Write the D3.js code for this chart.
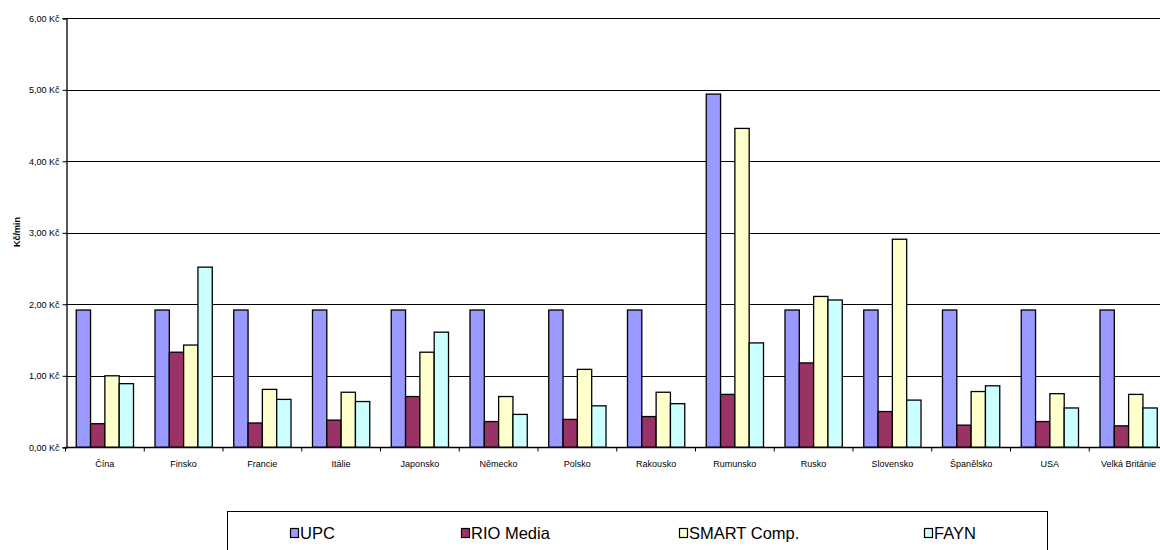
<!DOCTYPE html>
<html><head><meta charset="utf-8">
<script src="https://cdn.jsdelivr.net/npm/d3@7"></script>
<style>body{margin:0;background:#fff}svg{display:block;font-family:"Liberation Sans",Arial,sans-serif}</style>
</head><body><svg id="c" width="1160" height="550"></svg>
<script>
const categories = ["Čína","Finsko","Francie","Itálie","Japonsko","Německo","Polsko","Rakousko","Rumunsko","Rusko","Slovensko","Španělsko","USA","Velká Británie"];
const seriesNames = ["UPC","RIO Media","SMART Comp.","FAYN"];
const upc   = [1.92,1.92,1.92,1.92,1.92,1.92,1.92,1.92,4.94,1.92,1.92,1.92,1.92,1.92];
const rio   = [0.33,1.33,0.34,0.38,0.71,0.36,0.39,0.43,0.74,1.18,0.50,0.31,0.36,0.30];
const smart = [1.00,1.43,0.81,0.77,1.33,0.71,1.09,0.77,4.46,2.11,2.91,0.78,0.75,0.74];
const fayn  = [0.89,2.52,0.67,0.64,1.61,0.46,0.58,0.61,1.46,2.06,0.66,0.86,0.55,0.55];
const yTicks = [0,1,2,3,4,5,6];
const colors = ["#9999FF","#993366","#FFFFCC","#CCFFFF"];
const seriesValues = [upc, rio, smart, fayn];

(function(){
const svg = d3.select("#c");
const pL = 65.5, pR = 1168, pT = 18.3, pB = 447.3;
const x = d3.scaleBand().domain(categories).range([pL, pR]).paddingInner(0).paddingOuter(0);
const y = d3.scaleLinear().domain([0,6]).range([pB, pT]);
const bw = x.bandwidth()/5.5;
const fmt = v => d3.format(".2f")(v).replace(".", ",") + " Kč";

// gridlines
svg.append("g").selectAll("line").data(yTicks.filter(d=>d>0)).join("line")
  .attr("x1", pL).attr("x2", pR)
  .attr("y1", d=>Math.round(y(d))+0.5).attr("y2", d=>Math.round(y(d))+0.5)
  .attr("stroke","#000").attr("stroke-width",1);

// bars
const g = svg.append("g");
categories.forEach((c,i)=>{
  seriesValues.forEach((vals,s)=>{
    const x0 = x(c) + bw*0.75 + s*bw;
    g.append("rect").attr("x", x0).attr("width", bw)
      .attr("y", y(vals[i])).attr("height", y(0)-y(vals[i]))
      .attr("fill", colors[s]).attr("stroke","#000").attr("stroke-width",1.3);
  });
});

// y axis
const yAxis = d3.axisLeft(y).tickValues(yTicks).tickFormat(fmt).tickSize(4).tickPadding(3);
const ya = svg.append("g").attr("transform",`translate(${Math.round(pL)+0.5},0)`).call(yAxis);
ya.select(".domain").attr("stroke","#000").attr("stroke-width",1.3);
ya.selectAll("text").attr("font-size",9).attr("fill","#000").style("font-family","Liberation Sans, Arial, sans-serif");

// x axis
const xa = svg.append("g").attr("transform",`translate(0,${Math.round(pB)+0.5})`);
xa.append("line").attr("x1",pL).attr("x2",pR).attr("stroke","#000").attr("stroke-width",1.3);
xa.selectAll("line.t").data(d3.range(categories.length+1)).join("line").attr("class","t")
  .attr("x1", i=>pL+i*x.step()).attr("x2", i=>pL+i*x.step()).attr("y1",0).attr("y2",4).attr("stroke","#000");
xa.selectAll("text").data(categories).join("text")
  .attr("x", d=>x(d)+x.bandwidth()/2).attr("y", 19).attr("text-anchor","middle")
  .attr("font-size",9).attr("fill","#000").text(d=>d);

// y title
svg.append("text").attr("transform","translate(20,232) rotate(-90)").attr("text-anchor","middle")
  .attr("font-size",9).attr("font-weight","bold").text("Kč/min");

// legend
const lg = svg.append("g");
lg.append("rect").attr("x",227.5).attr("y",511.5).attr("width",820).attr("height",60)
  .attr("fill","#fff").attr("stroke","#000").attr("stroke-width",1);
const lx = [290, 461, 679, 924];
seriesNames.forEach((n,s)=>{
  lg.append("rect").attr("x",lx[s]+0.5).attr("y",528.5).attr("width",8).attr("height",9)
    .attr("fill",colors[s]).attr("stroke","#000").attr("stroke-width",1.2);
  lg.append("text").attr("x",lx[s]+10).attr("y",538.5).attr("font-size",16.5).text(n);
});
})();
</script></body></html>
